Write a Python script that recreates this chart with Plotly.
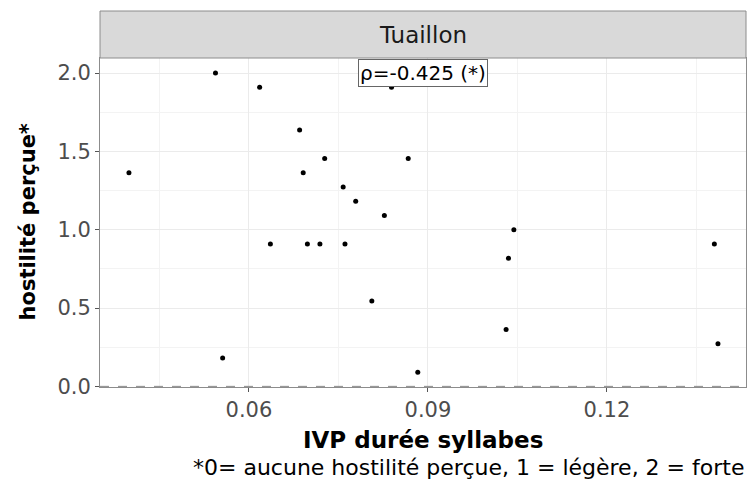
import plotly.graph_objects as go

# data
ivp_duree = [0.0399, 0.0544, 0.0556, 0.0618, 0.0636, 0.0685, 0.0691, 0.0698,
             0.0719, 0.0727, 0.0758, 0.0761, 0.0779, 0.0806, 0.0827, 0.0839,
             0.0867, 0.0883, 0.1031, 0.1035, 0.1044, 0.1380, 0.1386]
hostilite = [15/11, 2.0, 2/11, 21/11, 10/11, 18/11, 15/11, 10/11,
             10/11, 16/11, 14/11, 10/11, 13/11, 6/11, 12/11, 21/11,
             16/11, 1/11, 4/11, 9/11, 1.0, 10/11, 3/11]
facet_label = "Tuaillon"
rho_label = "ρ=-0.425 (*)"
x_title = "IVP durée syllabes"
y_title = "hostilité perçue*"
caption = "*0= aucune hostilité perçue, 1 = légère, 2 = forte"

FONT = "DejaVu Sans, Liberation Sans, sans-serif"
GRID = "#EBEBEB"
BORDER = "#8C8C8C"

fig = go.Figure()
fig.add_trace(go.Scatter(x=ivp_duree, y=hostilite, mode="markers",
                         marker=dict(color="black", size=5),
                         hoverinfo="skip", showlegend=False))

plot_h = 387 - 58
plot_w = 746 - 100
strip_h = 47

fig.update_layout(
    width=750, height=494,
    margin=dict(l=100, r=4, t=58, b=107),
    paper_bgcolor="white", plot_bgcolor="white",
    font=dict(family=FONT, color="#4D4D4D"),
    xaxis=dict(range=[0.03505, 0.1433], dtick=0.03, tick0=0.06,
               tickformat=".2f", showgrid=True, gridcolor=GRID, gridwidth=1,
               minor=dict(dtick=0.015, showgrid=True, gridcolor="#F3F3F3", gridwidth=0.6),
               zeroline=False, showline=True, linecolor=BORDER, mirror=True,
               ticks="outside", ticklen=4, tickcolor="#555555",
               tickfont=dict(size=21, color="#4D4D4D")),
    yaxis=dict(range=[-0.004, 2.096], dtick=0.5, tick0=0,
               tickformat=".1f", showgrid=True, gridcolor=GRID, gridwidth=1,
               minor=dict(dtick=0.25, showgrid=True, gridcolor="#F3F3F3", gridwidth=0.6),
               zeroline=False, showline=True, linecolor=BORDER, mirror=True,
               ticks="outside", ticklen=4, tickcolor="#555555",
               tickfont=dict(size=21, color="#4D4D4D")),
)

# dashed horizontal line at 0
fig.add_shape(type="line", xref="paper", yref="y", x0=0, x1=1, y0=0, y1=0,
              line=dict(color="#888888", width=1, dash="dash"))

# facet strip
fig.add_shape(type="rect", xref="paper", yref="paper", x0=0, x1=1,
              y0=1, y1=1 + strip_h / plot_h,
              fillcolor="#D9D9D9", line=dict(color=BORDER, width=1), layer="above")
fig.add_annotation(xref="paper", yref="paper", x=0.5, y=1 + strip_h / 2 / plot_h,
                   text=facet_label, showarrow=False, yanchor="middle",
                   font=dict(size=23, color="#1A1A1A", family=FONT))

# rho label
fig.add_annotation(xref="paper", yref="y", x=0.5, y=2.0, text=rho_label,
                   showarrow=False, bgcolor="white", bordercolor="#666666",
                   borderwidth=1, borderpad=1, yanchor="middle",
                   font=dict(size=20, color="black", family=FONT))

# axis titles
fig.add_annotation(xref="paper", yref="paper", x=0.5, y=-(440 - 387) / plot_h,
                   text="<b>" + x_title + "</b>", showarrow=False, yanchor="middle",
                   font=dict(size=23, color="black", family=FONT))
fig.add_annotation(xref="paper", yref="paper", x=-(100 - 27) / plot_w, y=0.5,
                   text="<b>" + y_title + "</b>", showarrow=False, textangle=-90,
                   xanchor="center", yanchor="middle",
                   font=dict(size=21, color="black", family=FONT))
# caption
fig.add_annotation(xref="paper", yref="paper", x=1, y=-(467 - 387) / plot_h,
                   text=caption, showarrow=False, xanchor="right", yanchor="middle",
                   font=dict(size=22, color="black", family=FONT))

fig.write_html("out.html", config={"displayModeBar": False},
               post_script="document.body.style.margin='0';document.body.style.overflow='hidden';")
